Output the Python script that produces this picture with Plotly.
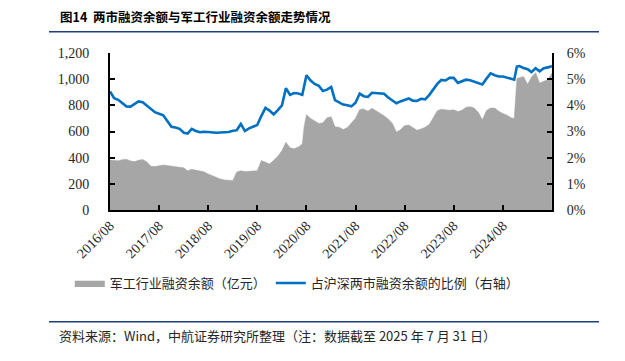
import plotly.graph_objects as go

dates = (
    ["2016-08-01", "2016-09-01", "2016-10-01", "2016-11-01", "2016-12-01"]
    + [f"2017-{m:02d}-01" for m in range(1, 13)]
    + [f"2018-{m:02d}-01" for m in range(1, 13)]
    + [f"2019-{m:02d}-01" for m in range(1, 13)]
    + ["2020-01-01", "2020-02-01", "2020-03-01", "2020-04-01", "2020-05-01", "2020-06-01",
       "2020-07-01", "2020-07-15", "2020-08-01", "2020-09-01", "2020-10-01", "2020-11-01", "2020-12-01"]
    + [f"2021-{m:02d}-01" for m in range(1, 13)]
    + [f"2022-{m:02d}-01" for m in range(1, 13)]
    + [f"2023-{m:02d}-01" for m in range(1, 13)]
    + ["2024-01-01", "2024-02-01", "2024-03-01", "2024-04-01", "2024-05-01", "2024-06-01",
       "2024-07-01", "2024-08-01", "2024-09-01", "2024-10-01", "2024-10-24", "2024-11-13", "2024-12-01"]
    + ["2025-01-01", "2025-02-01", "2025-03-01", "2025-04-01", "2025-05-01", "2025-06-01",
       "2025-07-01", "2025-07-31"]
)

military_margin = [
    382, 378, 376, 385, 388,
    375, 370, 380, 386, 368, 335, 332, 336, 344, 340, 334, 328,
    326, 322, 300, 311, 306, 300, 292, 276, 263, 252, 236, 230,
    229, 226, 290, 300, 294, 295, 296, 300, 378, 366, 352, 380,
    410, 455, 518, 476, 468, 482, 505, 640, 728, 700, 680, 662, 666,
    705, 712, 636, 633, 615, 630, 662, 702, 768, 772, 755, 778,
    758, 740, 720, 696, 664, 596, 613, 645, 650, 630, 610, 620,
    632, 655, 700, 758, 770, 765, 762, 766, 752, 762, 785, 790,
    779, 745, 690, 760, 779, 779, 755, 738, 725, 705, 700, 1005, 1012,
    1020, 962, 1015, 1050, 970, 985, 996, 1047,
]

share_pct = [
    4.53, 4.27, 4.21, 4.08, 3.96,
    3.95, 4.05, 4.15, 4.12, 4.00, 3.85, 3.74, 3.68, 3.62, 3.40, 3.18, 3.15,
    3.10, 2.95, 2.92, 3.10, 3.02, 2.97, 2.99, 2.98, 2.96, 2.95, 2.96, 2.96,
    2.98, 3.03, 3.05, 3.29, 3.02, 3.12, 3.17, 3.25, 3.60, 3.90, 3.80, 3.65,
    3.82, 4.00, 4.65, 4.40, 4.47, 4.45, 4.40, 4.75, 5.15, 4.95, 4.82, 4.75, 4.55,
    4.60, 4.70, 4.20, 4.12, 4.03, 4.00, 3.96, 4.10, 4.45, 4.35, 4.32, 4.48,
    4.46, 4.46, 4.44, 4.30, 4.18, 4.08, 4.15, 4.22, 4.26, 4.18, 4.17, 4.25,
    4.23, 4.40, 4.62, 4.82, 4.97, 4.95, 5.05, 5.05, 4.86, 4.92, 4.98, 4.96,
    4.91, 4.85, 4.80, 5.02, 5.22, 5.15, 5.10, 5.10, 5.05, 5.02, 4.98, 5.48, 5.50,
    5.43, 5.38, 5.27, 5.42, 5.30, 5.42, 5.45, 5.50,
]

tick_dates = [f"{y}-08-01" for y in range(2016, 2025)]
tick_labels = [f"{y}/08" for y in range(2016, 2025)]
left_ticks = [0, 200, 400, 600, 800, 1000, 1200]
left_labels = ["0", "200", "400", "600", "800", "1,000", "1,200"]
right_ticks = [0, 1, 2, 3, 4, 5, 6]
right_labels = ["0%", "1%", "2%", "3%", "4%", "5%", "6%"]

assert len(dates) == len(military_margin) == len(share_pct)

CJK = "Noto Sans CJK SC"
SERIF = "Liberation Serif, Times New Roman, serif"

fig = go.Figure()
fig.add_trace(go.Scatter(
    x=dates, y=military_margin, name="军工行业融资余额（亿元）",
    mode="lines", fill="tozeroy", fillcolor="#A6A6A6",
    line=dict(color="#A6A6A6", width=0.5),
))
fig.add_trace(go.Scatter(
    x=dates, y=share_pct, name="占沪深两市融资余额的比例（右轴）",
    mode="lines", line=dict(color="#0070C0", width=2.6), yaxis="y2",
))

tick_font = dict(family=SERIF, size=14, color="#262626")


def axis_style():
    return dict(showline=True, linecolor="black", linewidth=2,
                ticks="inside", ticklen=5, tickwidth=2, tickcolor="black",
                showgrid=False, zeroline=False, tickfont=tick_font)


fig.update_layout(
    width=617, height=353,
    margin=dict(l=102, r=73, t=45, b=151, autoexpand=False),
    paper_bgcolor="white", plot_bgcolor="white",
    showlegend=True,
    xaxis=dict(type="date", range=["2016-08-01", "2025-08-01"],
               tickmode="array", tickvals=tick_dates, ticktext=tick_labels,
               tickangle=-45, **axis_style()),
    yaxis=dict(range=[0, 1200], tickmode="array", tickvals=left_ticks,
               ticktext=left_labels, ticklabelstandoff=16, **axis_style()),
    yaxis2=dict(range=[0, 6], overlaying="y", side="right", tickmode="array",
                tickvals=right_ticks, ticktext=right_labels, ticklabelstandoff=10,
                **axis_style()),
    legend=dict(orientation="h", x=-0.091, xanchor="left", y=-0.465, yanchor="middle",
                font=dict(family=CJK, size=13, color="#262626"),
                itemwidth=30, bgcolor="rgba(0,0,0,0)", traceorder="normal"),
    annotations=[
        dict(text="<b>图14  两市融资余额与军工行业融资余额走势情况</b>", xref="paper", yref="paper",
             x=(195.5 - 110) / 442, y=(210 - 16) / 157, xanchor="center", yanchor="middle",
             showarrow=False, font=dict(family=CJK, size=12.5, color="black")),
        dict(text="资料来源：Wind，中航证券研究所整理（注：数据截至 2025 年 7 月 31 日）",
             xref="paper", yref="paper",
             x=(57 - 110) / 442, y=(210 - 335) / 157, xanchor="left", yanchor="middle",
             showarrow=False, font=dict(family=CJK, size=13, color="#262626")),
    ],
    shapes=[
        dict(type="line", xref="paper", yref="paper", x0=(49 - 110) / 442, x1=(599 - 110) / 442,
             y0=(210 - 31.7) / 157, y1=(210 - 31.7) / 157, line=dict(color="#1F3F7A", width=1.5)),
        dict(type="line", xref="paper", yref="paper", x0=(49 - 110) / 442, x1=(599 - 110) / 442,
             y0=(210 - 321.7) / 157, y1=(210 - 321.7) / 157, line=dict(color="#1F3F7A", width=1.5)),
    ],
)

fig.write_html("out.html")
